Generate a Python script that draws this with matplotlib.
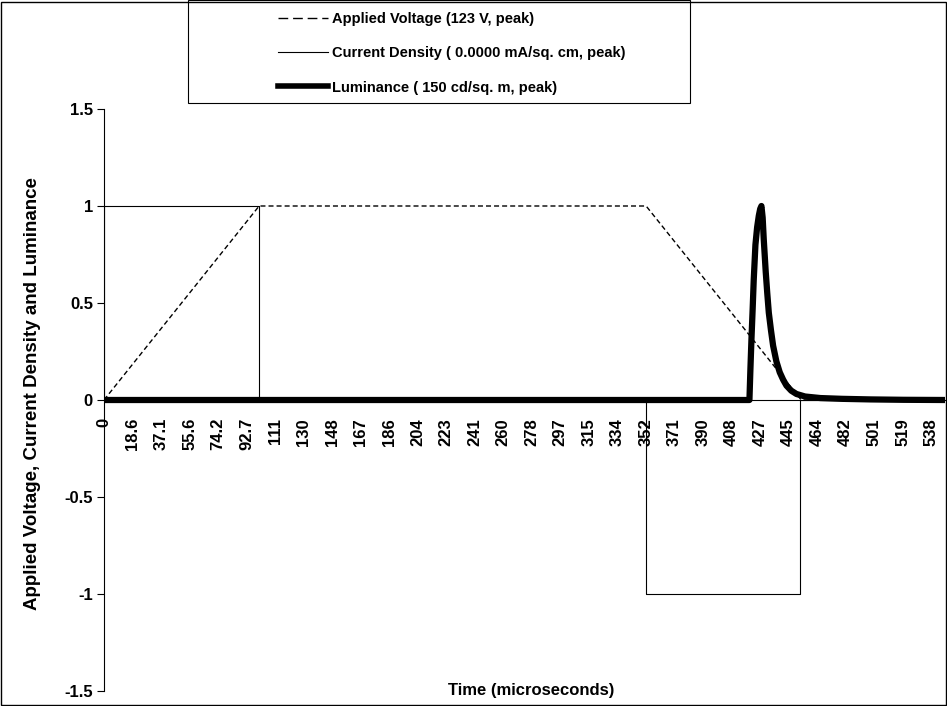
import matplotlib
matplotlib.use("Agg")
import matplotlib.pyplot as plt
from matplotlib.patches import Rectangle
from matplotlib.lines import Line2D

plt.rcParams['font.family'] = ['Liberation Sans', 'DejaVu Sans']
plt.rcParams['font.weight'] = 'bold'

# ---- data (time in microseconds, normalized values) ----
voltage_t = [0, 100.9, 352.6, 453.5, 547]
voltage_v = [0, 1, 1, 0, 0]

current_t = [0, 0, 100.9, 100.9, 352.5, 352.5, 453.0, 453.0, 547]
current_v = [0, 1, 1, 0, 0, -1, -1, 0, 0]

lum_t = [0, 419.8, 420.4, 421.1, 421.9, 422.6, 423.7, 424.8, 425.9, 426.8,
         427.6, 428.4, 429.1, 430.4, 431.4, 432.4, 433.8, 435.2, 437.3,
         439.5, 441.7, 443.9, 447.0, 450.4, 456.0, 466.0, 480.0, 498.6,
         520.0, 547]
lum_v = [0, 0, 0.15, 0.31, 0.47, 0.62, 0.80, 0.89, 0.95, 0.985,
         1.0, 0.94, 0.83, 0.66, 0.55, 0.45, 0.36, 0.28, 0.20,
         0.143, 0.105, 0.074, 0.048, 0.031, 0.018, 0.010, 0.006, 0.003,
         0.001, 0]

xtick_labels = ["0", "18.6", "37.1", "55.6", "74.2", "92.7", "111", "130", "148",
                "167", "186", "204", "223", "241", "260", "278", "297", "315",
                "334", "352", "371", "390", "408", "427", "445", "464", "482",
                "501", "519", "538"]
xtick_step = 18.55
ytick_vals = [-1.5, -1, -0.5, 0, 0.5, 1, 1.5]
ytick_labels = ["-1.5", "-1", "-0.5", "0", "0.5", "1", "1.5"]

legend_labels = ["Applied Voltage (123 V, peak)",
                 "Current Density ( 0.0000 mA/sq. cm, peak)",
                 "Luminance ( 150 cd/sq. m, peak)"]

W, H = 947, 706
fig = plt.figure(figsize=(W / 100, H / 100), dpi=100)
ax = fig.add_axes([104 / W, (H - 691) / H, (945 - 104) / W, (691 - 109) / H])

ax.plot(voltage_t, voltage_v, color='black', lw=1.0, dashes=(3.6, 2.2))
ax.plot(current_t, current_v, color='black', lw=0.8)
ax.plot(lum_t, lum_v, color='black', lw=4.5, solid_joinstyle='round',
        solid_capstyle='butt')

ax.set_xlim(0, 547)
ax.set_ylim(-1.5, 1.5)

ax.spines['top'].set_visible(False)
ax.spines['right'].set_visible(False)
ax.spines['bottom'].set_position(('data', 0))
ax.spines['left'].set_linewidth(0.8)
ax.spines['bottom'].set_linewidth(0.8)

xt = [i * xtick_step for i in range(len(xtick_labels))]
ax.set_xticks(xt)
ax.set_xticklabels(xtick_labels, rotation=90, fontsize=12, fontweight='bold')
ax.tick_params(axis='x', length=0, pad=13)
ax.set_yticks(ytick_vals)
ax.set_yticklabels(ytick_labels, fontsize=12, fontweight='bold')
ax.tick_params(axis='y', length=5, width=0.8, direction='out', pad=3)

fig.text(33 / W, 1 - 394 / H, "Applied Voltage, Current Density and Luminance",
         rotation=90, ha='center', va='center', fontsize=13.5, fontweight='bold')
fig.text(531 / W, 1 - 690 / H, "Time (microseconds)",
         ha='center', va='center', fontsize=12, fontweight='bold')

# legend box
fig.patches.append(Rectangle((188 / W, 1 - 103 / H), (690 - 188) / W, 103 / H,
                             transform=fig.transFigure, fill=False,
                             edgecolor='black', lw=0.8))
h1 = Line2D([], [], color='black', lw=1.0, dashes=(7, 3.5))
h2 = Line2D([], [], color='black', lw=0.8)
h3 = Line2D([], [], color='black', lw=4.0)
fig.legend([h1, h2, h3], legend_labels, loc='upper left',
           bbox_to_anchor=(278 / W, 1 - 12 / H), frameon=False,
           prop={'size': 10.5, 'weight': 'bold'}, handlelength=3.4,
           handletextpad=0.27, labelspacing=1.39, borderpad=0, borderaxespad=0)

# outer border
fig.patches.append(Rectangle((0.5 / W, 1.5 / H), (W - 2) / W, (H - 3) / H,
                             transform=fig.transFigure, fill=False,
                             edgecolor='black', lw=1.0))

fig.savefig("out.png", dpi=100)
